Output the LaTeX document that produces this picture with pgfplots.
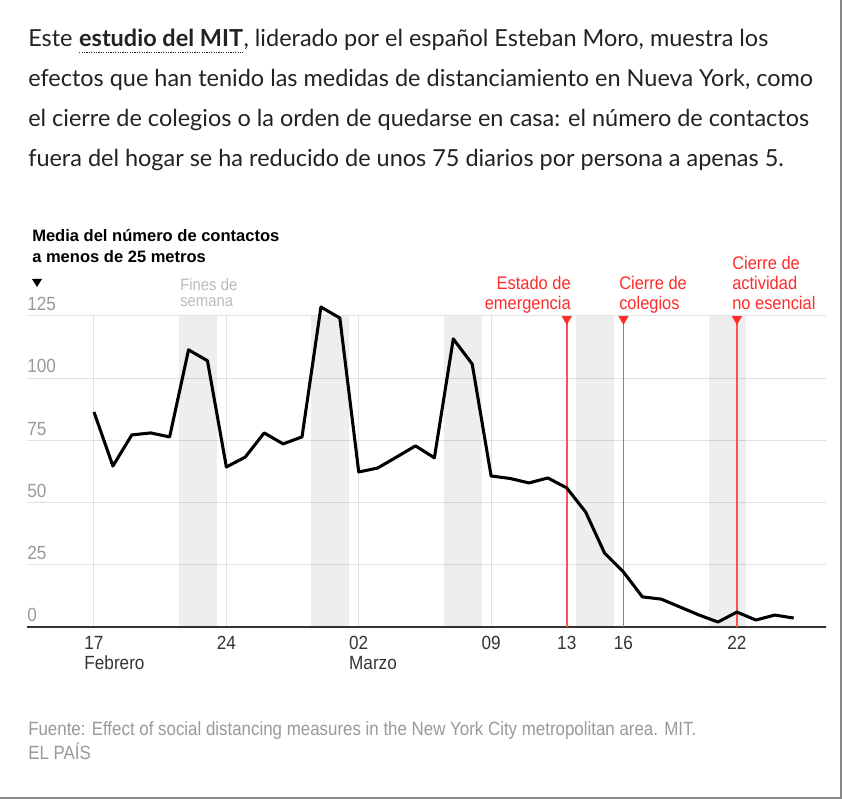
\documentclass[border=0pt]{standalone}
\usepackage{fontspec}
\usepackage{pgfplots}
\pgfplotsset{compat=1.18}
\setmainfont{Lato}
\newfontfamily\narrow{Liberation Sans}[FakeStretch=0.88]
\newfontfamily\tickf{Liberation Sans}[FakeStretch=0.9]
\newfontfamily\annot{Liberation Sans}[FakeStretch=0.9]
\newfontfamily\arialb{Liberation Sans}
\definecolor{txt}{HTML}{222222}
\definecolor{ylab}{HTML}{999999}
\definecolor{xlab}{HTML}{333333}
\definecolor{gridc}{HTML}{E0E0E0}
\definecolor{redt}{HTML}{FF2A2A}
\definecolor{redl}{HTML}{FF5050}
\definecolor{srcc}{HTML}{999999}
\definecolor{finesc}{HTML}{BBBBBB}
\definecolor{frame}{HTML}{888888}
\newcommand\dotul[1]{\tikz[baseline=(u.base)]{\node[inner sep=0pt,outer sep=0pt](u){#1};\draw[line width=0.9pt, dash pattern=on 0.9pt off 0.9pt, color=txt] ([yshift=-3.9pt]u.base west)--([yshift=-3.9pt]u.base east);}}
\begin{document}
\begin{tikzpicture}
\begin{scope}[x=0.75pt,y=0.75pt]
\path[use as bounding box] (0,0) rectangle (842,799);
\draw[color=frame, line width=1.5pt] (841,799) -- (841,1) -- (0,1);
% title
\begin{scope}[every node/.style={anchor=base west, inner sep=0pt, text=txt, font=\fontsize{17.6pt}{20pt}\selectfont}]
\node at (28,{799-47}) {Este \dotul{\bfseries estudio del MIT}, liderado por el español Esteban Moro, muestra los};
\node at (28,{799-87}) {efectos que han tenido las medidas de distanciamiento en Nueva York, como};
\node at (28,{799-127}) {el cierre de colegios o la orden de quedarse en casa: el número de contactos};
\node at (28,{799-167}) {fuera del hogar se ha reducido de unos 75 diarios por persona a apenas 5.};
\end{scope}
% chart label
\begin{scope}[every node/.style={anchor=base west, inner sep=0pt, text=black, font=\arialb\bfseries\fontsize{12.4pt}{14pt}\selectfont}]
\node at (32,{799-242}) {Media del número de contactos};
\node at (32,{799-263}) {a menos de 25 metros};
\end{scope}
\fill[black] (32,{799-279}) -- (42,{799-279}) -- (37,{799-287}) -- cycle;
% fines de semana
\begin{scope}[every node/.style={anchor=base west, inner sep=0pt, text=finesc, font=\annot\fontsize{12.4pt}{14pt}\selectfont}]
\node at (180,{799-291}) {Fines de};
\node at (180,{799-307}) {semana};
\end{scope}
% red annotations
\begin{scope}[every node/.style={inner sep=0pt, text=redt, font=\annot\fontsize{13.7pt}{15pt}\selectfont}]
\node[anchor=base east] at (571,{799-290}) {Estado de};
\node[anchor=base east] at (571,{799-310}) {emergencia};
\node[anchor=base west] at (619,{799-290}) {Cierre de};
\node[anchor=base west] at (619,{799-310}) {colegios};
\node[anchor=base west] at (732,{799-270}) {Cierre de};
\node[anchor=base west] at (732,{799-290}) {actividad};
\node[anchor=base west] at (732,{799-310}) {no esencial};
\end{scope}
% source
\begin{scope}[every node/.style={anchor=base west, inner sep=0pt, text=srcc, font=\narrow\fontsize{14.4pt}{16pt}\selectfont}]
\node at (28,{799-736}) {Fuente: Effect of social distancing measures in the New York City metropolitan area. MIT.};
\node at (28,{799-760}) {EL PAÍS};
\end{scope}
\end{scope}
\begin{axis}[
  at={(20.25pt,129pt)}, anchor=south west,
  scale only axis, width=599.25pt, height=233.25pt,
  xmin=13.457, xmax=55.71, ymin=0, ymax=125,
  clip=false,
  axis lines*=left,
  y axis line style={draw=none},
  x axis line style={draw=xlab, line width=1.2pt},
  ytick={0,25,50,75,100,125},
  xtick={17,24,31,38,42,45,51},
  xticklabels={{\rlap{\begin{tabular}[t]{@{}l@{}}17\\Febrero\end{tabular}}\phantom{17}},24,{\rlap{\begin{tabular}[t]{@{}l@{}}02\\Marzo\end{tabular}}\phantom{02}},09,13,16,22},
  ymajorgrids, xmajorgrids,
  grid style={draw=gridc, line width=0.75pt},
  major tick length=0pt,
  /pgf/number format/assume math mode=true,
  yticklabel style={anchor=base west, inner sep=0pt, xshift=0pt, yshift=3.9pt, font=\tickf\fontsize{14.3pt}{15pt}\selectfont, text=ylab},
  xticklabel style={anchor=base, inner sep=0pt, yshift=-17.25pt, font=\tickf\fontsize{14.3pt}{15pt}\selectfont, text=xlab},
]
% weekend bands
\addplot[fill=black, fill opacity=0.065, draw=none] coordinates {(21.5,125)(23.5,125)} \closedcycle;
\addplot[fill=black, fill opacity=0.065, draw=none] coordinates {(28.5,125)(30.5,125)} \closedcycle;
\addplot[fill=black, fill opacity=0.065, draw=none] coordinates {(35.5,125)(37.5,125)} \closedcycle;
\addplot[fill=black, fill opacity=0.065, draw=none] coordinates {(42.5,125)(44.5,125)} \closedcycle;
\addplot[fill=black, fill opacity=0.065, draw=none] coordinates {(49.5,125)(51.5,125)} \closedcycle;
% event lines
\addplot[draw=redl, ycomb, line width=1.25pt, mark=none] coordinates {(42,124)(45,124)(51,124)};
\addplot[redt, only marks, mark=triangle*, mark size=4.2pt, mark options={rotate=180, fill=redt, draw=redt, line width=0.2pt}] coordinates {(42,123.8)(45,123.8)(51,123.8)};
% data
\addplot[black, line width=2.3pt, line join=round, mark=none] table {
x y
17 86.4
18 64.7
19 77.2
20 78.0
21 76.4
22 111.4
23 107.0
24 64.3
25 68.3
26 78.0
27 73.6
28 76.4
29 128.6
30 124.2
31 62.3
32 63.9
33 68.3
34 72.8
35 68.0
36 115.8
37 105.7
38 60.7
39 59.7
40 57.9
41 59.9
42 55.9
43 46.2
44 29.7
45 22.1
46 12.1
47 11.2
48 8.0
49 4.8
50 2.0
51 6.0
52 2.8
53 4.8
54 3.6
};
\end{axis}
\end{tikzpicture}
\end{document}
